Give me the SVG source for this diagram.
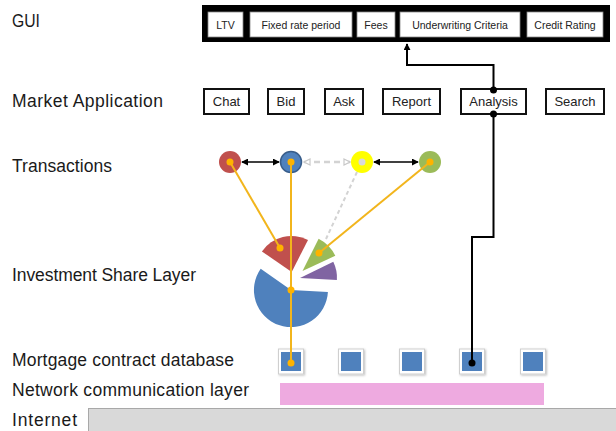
<svg xmlns="http://www.w3.org/2000/svg" width="616" height="431" viewBox="0 0 616 431">
  <defs>
    <style>
      .lbl { font-family: "Liberation Sans", Arial, sans-serif; font-size: 17.5px; fill: #1a1a1a; }
      .gtxt { font-family: "Liberation Sans", Arial, sans-serif; font-size: 10.5px; fill: #222; text-anchor: middle; }
      .btxt { font-family: "Liberation Sans", Arial, sans-serif; font-size: 13px; fill: #222; text-anchor: middle; }
      .gbox { fill: #fff; stroke: #888; stroke-width: 0.8; }
      .btn { fill: #fff; stroke: #111; stroke-width: 2; }
      .link { fill: none; stroke: #000; stroke-width: 2; }
      .orange { stroke: #F2B51C; stroke-width: 2; fill: none; }
      .odot { fill: #FFB300; }
      .kdot { fill: #000; }
      .dbframe { fill: #fff; stroke: #cfcfcf; stroke-width: 1; }
      .dbcore { fill: #4F81BD; }
    </style>
    <marker id="blackHead" viewBox="0 0 8 8" refX="7" refY="4" markerWidth="7" markerHeight="7" orient="auto-start-reverse" markerUnits="userSpaceOnUse">
      <path d="M0,0 L8,4 L0,8 z" fill="#000"/>
    </marker>
    <marker id="greyHead" viewBox="0 0 8 8" refX="7" refY="4" markerWidth="8" markerHeight="8" orient="auto-start-reverse" markerUnits="userSpaceOnUse">
      <path d="M1,1 L7,4 L1,7 z" fill="#fff" stroke="#C8C8C8" stroke-width="1.2"/>
    </marker>
    <filter id="shadow" x="-20%" y="-20%" width="150%" height="150%">
      <feDropShadow dx="1" dy="1" stdDeviation="0.8" flood-color="#000" flood-opacity="0.25"/>
    </filter>
  </defs>

  <!-- layer labels -->
  <g id="labels">
    <text class="lbl" x="12" y="27" textLength="28" lengthAdjust="spacingAndGlyphs">GUI</text>
    <text class="lbl" x="12" y="107" textLength="151">Market Application</text>
    <text class="lbl" x="12" y="172" textLength="100">Transactions</text>
    <text class="lbl" x="12" y="281" textLength="184">Investment Share Layer</text>
    <text class="lbl" x="12" y="366" textLength="222">Mortgage contract database</text>
    <text class="lbl" x="12" y="396" textLength="237">Network communication layer</text>
    <text class="lbl" x="12" y="426" textLength="65">Internet</text>
  </g>

  <!-- GUI panel -->
  <g id="gui">
    <rect x="202" y="5" width="408" height="37" fill="#000"/>
    <g id="gui-ltv"><rect class="gbox" x="208" y="12" width="35" height="25"/><text class="gtxt" x="225.5" y="28.5">LTV</text></g>
    <g id="gui-fixed"><rect class="gbox" x="250" y="12" width="102" height="25"/><text class="gtxt" x="301" y="28.5">Fixed rate period</text></g>
    <g id="gui-fees"><rect class="gbox" x="357" y="12" width="38" height="25"/><text class="gtxt" x="376" y="28.5">Fees</text></g>
    <g id="gui-underwriting"><rect class="gbox" x="400" y="12" width="120" height="25"/><text class="gtxt" x="460" y="28.5">Underwriting Criteria</text></g>
    <g id="gui-credit"><rect class="gbox" x="527" y="12" width="76" height="25"/><text class="gtxt" x="565" y="28.5">Credit Rating</text></g>
  </g>

  <!-- market application buttons -->
  <g id="app-chat"><rect class="btn" x="204" y="89" width="45" height="25"/><text class="btxt" x="226.5" y="106">Chat</text></g>
  <g id="app-bid"><rect class="btn" x="268" y="89" width="36" height="25"/><text class="btxt" x="286" y="106">Bid</text></g>
  <g id="app-ask"><rect class="btn" x="325" y="89" width="38" height="25"/><text class="btxt" x="344" y="106">Ask</text></g>
  <g id="app-report"><rect class="btn" x="383" y="89" width="57" height="25"/><text class="btxt" x="411.5" y="106">Report</text></g>
  <g id="app-analysis"><rect class="btn" x="461" y="89" width="65" height="25"/><text class="btxt" x="493.5" y="106">Analysis</text></g>
  <g id="app-search"><rect class="btn" x="546" y="89" width="58" height="25"/><text class="btxt" x="575" y="106">Search</text></g>

  <!-- investment share pie (exploded slices) -->
  <g id="pie">
    <path id="slice-blue" d="M291,290 L327.9,291.9 A37,37 0 1 1 260.7,268.8 Z" fill="#4F81BD"/>
    <path id="slice-red" d="M291.7,272 L261.9,251.4 A36,36 0 0 1 308.0,239.9 Z" fill="#C0504D"/>
    <path id="slice-green" d="M302.5,271 L318.6,238.7 A37,37 0 0 1 335.3,255.8 Z" fill="#9BBB59"/>
    <path id="slice-purple" d="M300,278 L333.3,261.8 A37,37 0 0 1 336.9,279.9 Z" fill="#8064A2"/>
  </g>

  <!-- contract database -->
  <g id="db-1" filter="url(#shadow)"><rect class="dbframe" x="278.5" y="349" width="25" height="25"/><rect class="dbcore" x="281" y="352" width="20" height="19"/></g>
  <g id="db-2" filter="url(#shadow)"><rect class="dbframe" x="338.5" y="349" width="25" height="25"/><rect class="dbcore" x="341" y="352" width="20" height="19"/></g>
  <g id="db-3" filter="url(#shadow)"><rect class="dbframe" x="399.5" y="349" width="25" height="25"/><rect class="dbcore" x="402" y="352" width="20" height="19"/></g>
  <g id="db-4" filter="url(#shadow)"><rect class="dbframe" x="459.5" y="349" width="25" height="25"/><rect class="dbcore" x="462" y="352" width="20" height="19"/></g>
  <g id="db-5" filter="url(#shadow)"><rect class="dbframe" x="520.5" y="349" width="25" height="25"/><rect class="dbcore" x="523" y="352" width="20" height="19"/></g>

  <!-- network and internet layers -->
  <g id="network"><rect x="280" y="383" width="264" height="22" fill="#EEAAE0"/></g>
  <g id="internet"><rect x="88.5" y="408.5" width="540" height="30" fill="#D9D9D9" stroke="#A8A8A8" stroke-width="1"/></g>

  <!-- transactions -->
  <g id="tx-red"><circle cx="230" cy="162" r="11" fill="#C0504D"/></g>
  <g id="tx-blue"><circle cx="291" cy="162" r="10.5" fill="#4F81BD" stroke="#385D8A" stroke-width="1.5"/></g>
  <g id="tx-yellow"><circle cx="362" cy="162" r="11" fill="#FFFF00"/></g>
  <g id="tx-green"><circle cx="430" cy="162" r="11" fill="#9BBB59"/></g>

  <!-- connectors -->
  <g id="connectors">
    <!-- analysis to GUI -->
    <path class="link" d="M493.5,90 V65 H407 V44" marker-end="url(#blackHead)"/>
    <circle class="kdot" cx="493.5" cy="90" r="3.5"/>
    <!-- analysis to contract database -->
    <path class="link" d="M493.5,114 V237 H472 V363"/>
    <circle class="kdot" cx="493.5" cy="114" r="3.5"/>
    <circle class="kdot" cx="472" cy="363" r="3.5"/>

    <!-- transaction links -->
    <line x1="242" y1="162" x2="279" y2="162" stroke="#000" stroke-width="1.5" marker-start="url(#blackHead)" marker-end="url(#blackHead)"/>
    <line x1="374" y1="162" x2="418" y2="162" stroke="#000" stroke-width="1.5" marker-start="url(#blackHead)" marker-end="url(#blackHead)"/>
    <line x1="304" y1="162" x2="350" y2="162" stroke="#D3D3D3" stroke-width="2.5" stroke-dasharray="6 4" marker-start="url(#greyHead)" marker-end="url(#greyHead)"/>
    <line x1="357" y1="172" x2="326" y2="239" stroke="#D3D3D3" stroke-width="2" stroke-dasharray="4 3"/>

    <!-- transactions to shares -->
    <line class="orange" x1="230" y1="162" x2="280" y2="248"/>
    <line class="orange" x1="291" y1="162" x2="291" y2="363"/>
    <line class="orange" x1="430" y1="162" x2="319" y2="253"/>

    <circle class="odot" cx="230" cy="162" r="3.5"/>
    <circle class="odot" cx="291" cy="162" r="3.5"/>
    <circle cx="362" cy="162" r="3.5" fill="#D9D9D9"/>
    <circle class="odot" cx="430" cy="162" r="3.5"/>
    <circle class="odot" cx="280" cy="248" r="3.5"/>
    <circle class="odot" cx="319" cy="253" r="3.5"/>
    <circle class="odot" cx="291" cy="290" r="3.5"/>
    <circle class="odot" cx="291" cy="363" r="3.5"/>
  </g>
</svg>
